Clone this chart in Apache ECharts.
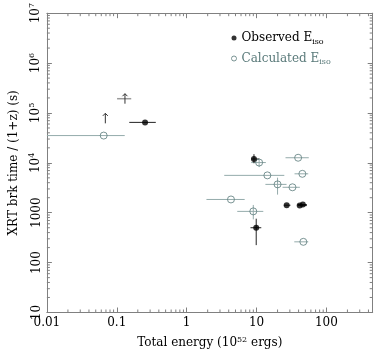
<!DOCTYPE html>
<html>
<head>
<meta charset="utf-8">
<script src="https://cdn.jsdelivr.net/npm/echarts@6/dist/echarts.min.js"></script>
<style>
  html, body { margin: 0; padding: 0; background: #fff; }
  #chart { width: 377px; height: 354px; }
</style>
</head>
<body>
<div id="chart"></div>
<script>
// axis ranges
const xMin = 0.01, xMax = 460;
const yMin = 10, yMax = 1e7;

// observed E_iso (filled dots)
const obsX    = [0.254, 9.19, 9.9, 27, 41.5, 46];
const obsY    = [64700, 11940, 500, 1415, 1390, 1460];
const obsXLo  = [0.151, 8.4, 8.2, 24.7, 38.6, 38.6];
const obsXHi  = [0.362, 11.0, 11.7, 30.6, 52.5, 52.5];
const obsYLo  = [null, 9820, 224, null, null, null];
const obsYHi  = [null, 14900, 759, null, null, null];

// calculated E_iso (open circles)
const calcX   = [0.065, 10.9, 39.4, 45.3, 14.3, 20, 32.7, 4.31, 8.99, 46.8];
const calcY   = [35200, 10130, 12650, 6025, 5610, 3700, 3235, 1845, 1064, 261];
const calcXLo = [0.005, 8.4, 26, 35, 3.45, 13.4, 23.6, 1.92, 5.3, 34.7];
const calcXHi = [0.13, 13.6, 56, 55, 25, 26.9, 41.7, 6.77, 12.5, 55];
const calcYLo = [null, 8220, null, null, null, 2306, null, null, 736, null];
const calcYHi = [null, 11430, null, null, null, 5040, null, null, 1432, null];

// lower limits (arrows)
const limX    = [0.0686, 0.131];
const limY    = [78000, 193000];
const limXLo  = [null, 0.101];
const limXHi  = [null, 0.161];

const xTickLabels = ['0.01', '0.1', '1', '10', '100'];

const FONT = 'DejaVu Serif';
const AXIS_COLOR = '#808080';
const CALC_COLOR = '#5a7a7a';

function rows(xs, ys, xlo, xhi, ylo, yhi) {
    return xs.map((x, i) => [
        x, ys[i],
        xlo[i] == null ? x : xlo[i],
        xhi[i] == null ? x : xhi[i],
        ylo && ylo[i] != null ? ylo[i] : ys[i],
        yhi && yhi[i] != null ? yhi[i] : ys[i]
    ]);
}

//dibuja barras de error (recortadas al grid)
function errorBars(color) {
    return function (params, api) {
        const cs = params.coordSys;
        const clampX = v => Math.max(cs.x, Math.min(cs.x + cs.width, v));
        const c = api.coord([api.value(0), api.value(1)]);
        const l = api.coord([api.value(2), api.value(1)]);
        const r = api.coord([api.value(3), api.value(1)]);
        const b = api.coord([api.value(0), api.value(4)]);
        const t = api.coord([api.value(0), api.value(5)]);
        const children = [];
        if (Math.abs(r[0] - l[0]) > 0.5) {
            children.push({ type: 'line', shape: { x1: clampX(l[0]), y1: c[1], x2: clampX(r[0]), y2: c[1] },
                style: { stroke: color, lineWidth: 1 } });
        }
        if (Math.abs(b[1] - t[1]) > 0.5) {
            children.push({ type: 'line', shape: { x1: c[0], y1: b[1], x2: c[0], y2: t[1] },
                style: { stroke: color, lineWidth: 1 } });
        }
        return { type: 'group', children: children };
    };
}

function arrows(params, api) {
    const c = api.coord([api.value(0), api.value(1)]);
    const l = api.coord([api.value(2), api.value(1)]);
    const r = api.coord([api.value(3), api.value(1)]);
    const children = [];
    if (Math.abs(r[0] - l[0]) > 0.5) {
        children.push({ type: 'line', shape: { x1: l[0], y1: c[1], x2: r[0], y2: c[1] },
            style: { stroke: '#9a9a9a', lineWidth: 1.5 } });
    }
    children.push({ type: 'line', shape: { x1: c[0], y1: c[1] + 5, x2: c[0], y2: c[1] - 5 },
        style: { stroke: '#333', lineWidth: 1 } });
    children.push({ type: 'polyline', shape: { points: [[c[0] - 2.5, c[1] - 2.5], [c[0], c[1] - 5], [c[0] + 2.5, c[1] - 2.5]] },
        style: { stroke: '#333', fill: 'none', lineWidth: 1 } });
    return { type: 'group', children: children };
}

//ticks menores 2..9 en cada decada, en los cuatro lados
function minorTicks(params, api) {
    const children = [];
    const len = 3;
    const st = { stroke: AXIS_COLOR, lineWidth: 1 };
    for (let d = xMin; d < xMax; d *= 10) {
        for (let k = 2; k <= 9; k++) {
            const v = d * k;
            if (v >= xMax) break;
            const pb = api.coord([v, yMin]);
            const pt = api.coord([v, yMax]);
            children.push({ type: 'line', shape: { x1: pb[0], y1: pb[1], x2: pb[0], y2: pb[1] - len }, style: st });
            children.push({ type: 'line', shape: { x1: pt[0], y1: pt[1], x2: pt[0], y2: pt[1] + len }, style: st });
        }
    }
    for (let d = yMin; d < yMax; d *= 10) {
        for (let k = 2; k <= 9; k++) {
            const v = d * k;
            const pl = api.coord([xMin, v]);
            const pr = api.coord([xMax, v]);
            children.push({ type: 'line', shape: { x1: pl[0], y1: pl[1], x2: pl[0] + len, y2: pl[1] }, style: st });
            children.push({ type: 'line', shape: { x1: pr[0], y1: pr[1], x2: pr[0] - len, y2: pr[1] }, style: st });
        }
    }
    return { type: 'group', children: children };
}

const chart = echarts.init(document.getElementById('chart'), null, { renderer: 'canvas' });

const axisCommon = {
    axisLine: { show: true, lineStyle: { color: AXIS_COLOR, width: 1 } },
    axisTick: { show: true, inside: true, length: 5, lineStyle: { color: AXIS_COLOR } },
    splitLine: { show: false }
};

const option = {
    animation: false,
    backgroundColor: '#fff',
    grid: { left: 40.7, right: 4.3, top: 11, bottom: 32.3 },
    legend: {
        orient: 'vertical',
        left: 226,
        top: 27,
        itemWidth: 5,
        itemHeight: 5,
        itemGap: 7,
        selectedMode: false,
        data: [
            { name: 'obs', icon: 'circle', itemStyle: { color: '#000' }, textStyle: { color: '#000' } },
            { name: 'calc', icon: 'circle', itemStyle: { color: 'transparent', borderColor: CALC_COLOR, borderWidth: 1 }, textStyle: { color: CALC_COLOR } }
        ],
        formatter: name => (name === 'obs' ? 'Observed E' : 'Calculated E') + '{sub|iso}',
        textStyle: {
            fontFamily: FONT, fontSize: 12,
            rich: { sub: { fontFamily: FONT, fontSize: 8, padding: [7, 0, 0, 0] } }
        }
    },
    xAxis: [
        Object.assign({
            type: 'log', min: xMin, max: xMax, logBase: 10, position: 'bottom',
            name: 'Total energy (10{sup|52} ergs)',
            nameLocation: 'middle', nameGap: 23,
            nameTextStyle: {
                fontFamily: FONT, fontSize: 12, color: '#000',
                rich: { sup: { fontFamily: FONT, fontSize: 8, padding: [0, 0, 7, 0] } }
            },
            axisLabel: {
                fontFamily: FONT, fontSize: 12, color: '#000', margin: 4,
                formatter: v => {
                    const e = Math.round(Math.log10(v));
                    return xTickLabels[e + 2] || '';
                }
            }
        }, axisCommon),
        Object.assign({
            type: 'log', min: xMin, max: xMax, logBase: 10, position: 'top',
            axisLabel: { show: false }
        }, axisCommon)
    ],
    yAxis: [
        Object.assign({
            type: 'log', min: yMin, max: yMax, logBase: 10, position: 'left',
            name: 'XRT brk time / (1+z) (s)',
            nameLocation: 'middle', nameGap: 23, nameRotate: 90,
            nameTextStyle: { fontFamily: FONT, fontSize: 12, color: '#000' },
            axisLabel: {
                fontFamily: FONT, fontSize: 12, color: '#000', rotate: 90, margin: 4,
                formatter: v => {
                    const e = Math.round(Math.log10(v));
                    return e <= 3 ? String(Math.pow(10, e)) : '10{sup|' + e + '}';
                },
                rich: { sup: { fontFamily: FONT, fontSize: 8, padding: [0, 0, 7, 0] } }
            }
        }, axisCommon),
        Object.assign({
            type: 'log', min: yMin, max: yMax, logBase: 10, position: 'right',
            axisLabel: { show: false }
        }, axisCommon)
    ],
    series: [
        {
            type: 'custom', name: 'ticks', silent: true,
            renderItem: minorTicks,
            data: [[xMin, yMin]],
            encode: { x: 0, y: 1 }, z: 1
        },
        {
            type: 'custom', name: 'calcErr', silent: true,
            renderItem: errorBars('#94abab'),
            data: rows(calcX, calcY, calcXLo, calcXHi, calcYLo, calcYHi),
            encode: { x: 0, y: 1 }, z: 2
        },
        {
            type: 'custom', name: 'obsErr', silent: true,
            renderItem: errorBars('#222'),
            data: rows(obsX, obsY, obsXLo, obsXHi, obsYLo, obsYHi),
            encode: { x: 0, y: 1 }, z: 3
        },
        {
            type: 'custom', name: 'limits', silent: true,
            renderItem: arrows,
            data: rows(limX, limY, limXLo, limXHi, null, null),
            encode: { x: 0, y: 1 }, z: 3
        },
        {
            type: 'scatter', name: 'calc',
            data: calcX.map((x, i) => [x, calcY[i]]),
            symbol: 'circle', symbolSize: 7,
            itemStyle: { color: 'transparent', borderColor: CALC_COLOR, borderWidth: 1 },
            z: 4
        },
        {
            type: 'scatter', name: 'obs',
            data: obsX.map((x, i) => [x, obsY[i]]),
            symbol: 'circle', symbolSize: 6,
            itemStyle: { color: '#000' },
            z: 5
        }
    ]
};

chart.setOption(option);
</script>
</body>
</html>
